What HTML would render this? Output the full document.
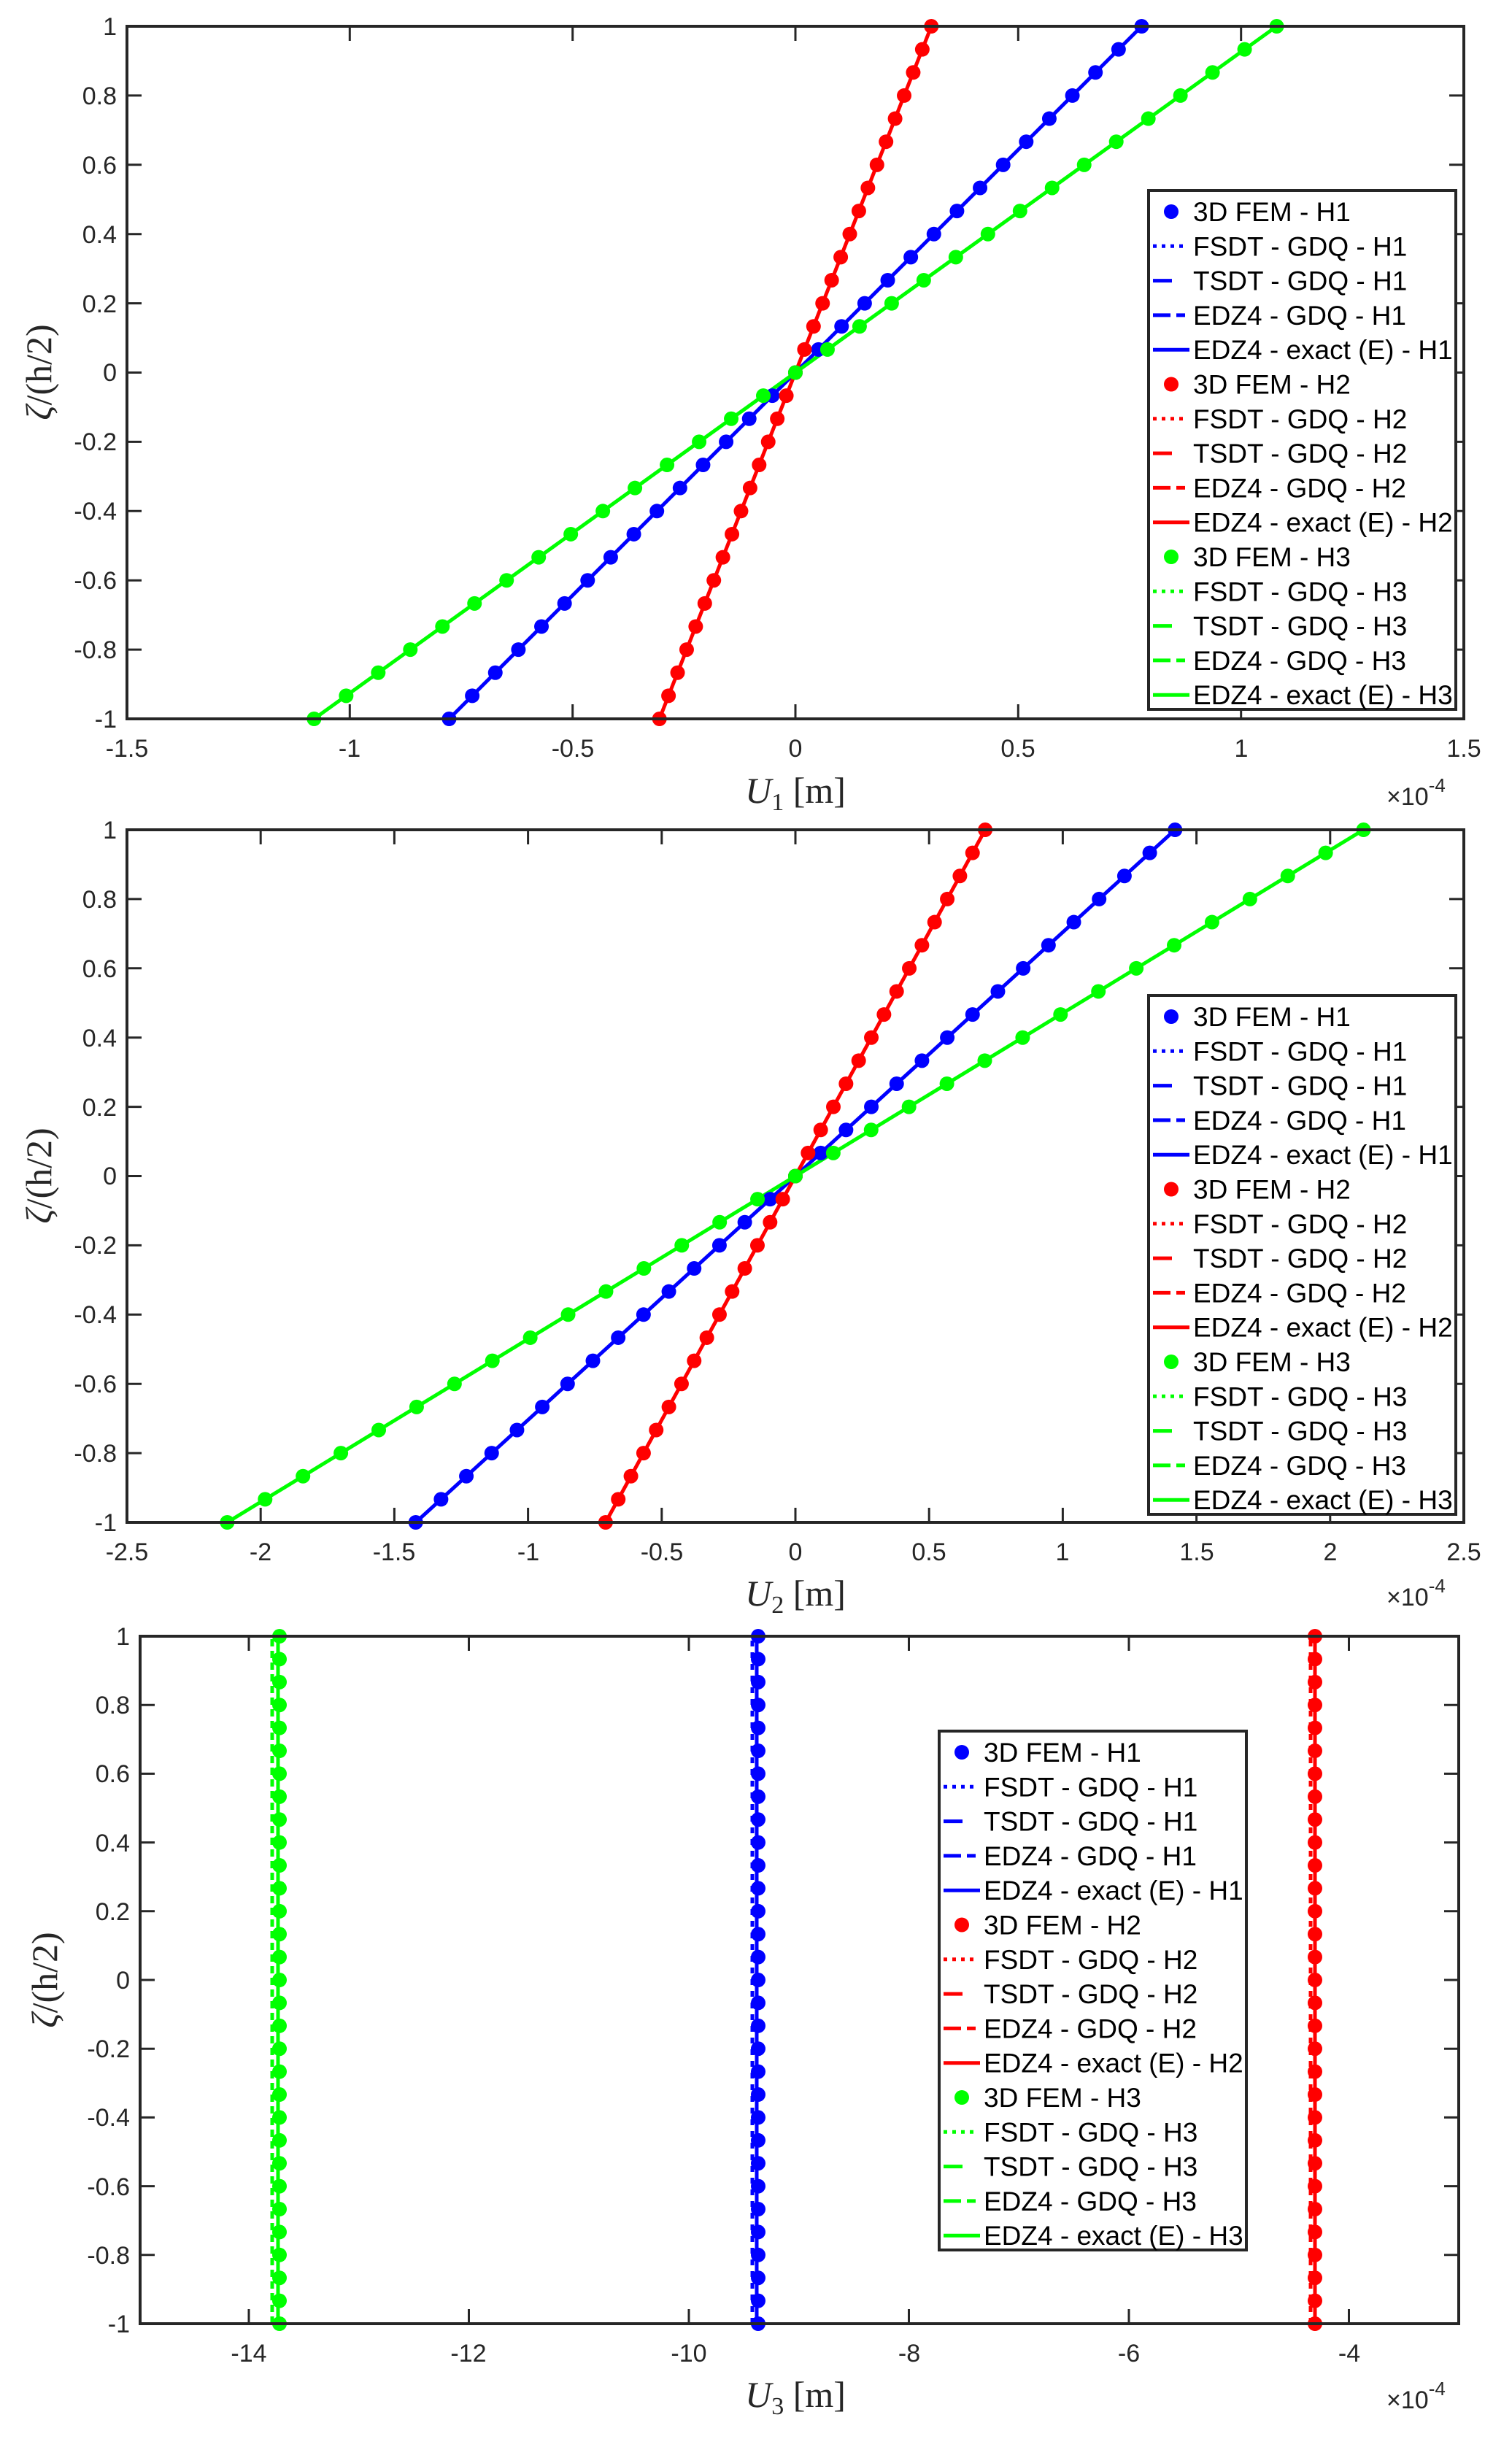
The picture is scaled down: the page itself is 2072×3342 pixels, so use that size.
<!DOCTYPE html>
<html><head><meta charset="utf-8"><style>
html,body{margin:0;padding:0;background:#fff;}
svg{display:block;}
.t{font-family:"Liberation Sans",sans-serif;font-size:34px;fill:#262626;}
.lg{font-family:"Liberation Sans",sans-serif;font-size:37px;fill:#000;}
.ax{font-family:"Liberation Serif",serif;font-size:50px;fill:#262626;}
</style></head><body>
<svg width="2072" height="3342" viewBox="0 0 2072 3342" xmlns="http://www.w3.org/2000/svg">

<!-- ========== PLOT 1 ========== -->
<g fill="none" stroke-width="5">
<line x1="615.5" y1="985" x2="1564.5" y2="36" stroke="#0000ff"/>
<line x1="903.7" y1="985" x2="1276.3" y2="36" stroke="#ff0000"/>
<line x1="430.4" y1="985" x2="1749.6" y2="36" stroke="#00ff00"/>
</g>
<g fill="none" stroke-width="20" stroke-linecap="round" stroke-dasharray="0 1">
<line x1="615.5" y1="985" x2="1564.5" y2="36" stroke="#0000ff" pathLength="30.001"/>
<line x1="903.7" y1="985" x2="1276.3" y2="36" stroke="#ff0000" pathLength="30.001"/>
<line x1="430.4" y1="985" x2="1749.6" y2="36" stroke="#00ff00" pathLength="30.001"/>
</g>
<g stroke="#262626" stroke-width="3">
<path d="M174,985V965M479.3,985V965M784.7,985V965M1090,985V965M1395.3,985V965M1700.7,985V965M2006,985V965
M174,36V56M479.3,36V56M784.7,36V56M1090,36V56M1395.3,36V56M1700.7,36V56M2006,36V56
M174,890.1H194M174,795.2H194M174,700.3H194M174,605.4H194M174,510.5H194M174,415.6H194M174,320.7H194M174,225.8H194M174,130.9H194
M2006,890.1H1986M2006,795.2H1986M2006,700.3H1986M2006,605.4H1986M2006,510.5H1986M2006,415.6H1986M2006,320.7H1986M2006,225.8H1986M2006,130.9H1986"/>
</g>
<rect x="174" y="36" width="1832" height="949" fill="none" stroke="#262626" stroke-width="4"/>
<g class="t" text-anchor="end">
<text x="160" y="997">-1</text><text x="160" y="902">-0.8</text><text x="160" y="807">-0.6</text><text x="160" y="712">-0.4</text><text x="160" y="617">-0.2</text><text x="160" y="522">0</text><text x="160" y="428">0.2</text><text x="160" y="333">0.4</text><text x="160" y="238">0.6</text><text x="160" y="143">0.8</text><text x="160" y="48">1</text>
</g>
<g class="t" text-anchor="middle">
<text x="174" y="1037">-1.5</text><text x="479" y="1037">-1</text><text x="785" y="1037">-0.5</text><text x="1090" y="1037">0</text><text x="1395" y="1037">0.5</text><text x="1701" y="1037">1</text><text x="2006" y="1037">1.5</text>
</g>
<text class="t" x="1900" y="1103">×10<tspan dy="-18" font-size="26">-4</tspan></text>
<text class="ax" x="1090" y="1100" text-anchor="middle"><tspan font-style="italic">U</tspan><tspan font-size="34" dy="10">1</tspan><tspan dy="-10">  [m]</tspan></text>
<text class="ax" transform="translate(70,510) rotate(-90)" text-anchor="middle"><tspan font-style="italic">ζ</tspan>/(h/2)</text>

<!-- legend 1 -->
<g transform="translate(1574,261)">
<rect x="0" y="0" width="421" height="711" fill="#fff" stroke="#262626" stroke-width="4"/>
<g stroke-width="5" fill="none">
<circle cx="31" cy="29" r="10" fill="#0000ff" stroke="none"/>
<line x1="6" y1="76.3" x2="50" y2="76.3" stroke="#0000ff" stroke-dasharray="5 7"/>
<line x1="6" y1="123.6" x2="32" y2="123.6" stroke="#0000ff"/>
<line x1="6" y1="170.9" x2="56" y2="170.9" stroke="#0000ff" stroke-dasharray="24 8 12 8"/>
<line x1="6" y1="218.2" x2="56" y2="218.2" stroke="#0000ff"/>
<circle cx="31" cy="265.5" r="10" fill="#ff0000" stroke="none"/>
<line x1="6" y1="312.8" x2="50" y2="312.8" stroke="#ff0000" stroke-dasharray="5 7"/>
<line x1="6" y1="360.1" x2="32" y2="360.1" stroke="#ff0000"/>
<line x1="6" y1="407.4" x2="56" y2="407.4" stroke="#ff0000" stroke-dasharray="24 8 12 8"/>
<line x1="6" y1="454.7" x2="56" y2="454.7" stroke="#ff0000"/>
<circle cx="31" cy="502" r="10" fill="#00ff00" stroke="none"/>
<line x1="6" y1="549.3" x2="50" y2="549.3" stroke="#00ff00" stroke-dasharray="5 7"/>
<line x1="6" y1="596.6" x2="32" y2="596.6" stroke="#00ff00"/>
<line x1="6" y1="643.9" x2="56" y2="643.9" stroke="#00ff00" stroke-dasharray="24 8 12 8"/>
<line x1="6" y1="691.2" x2="56" y2="691.2" stroke="#00ff00"/>
</g>
<g class="lg">
<text x="61" y="42">3D FEM - H1</text><text x="61" y="89.3">FSDT - GDQ - H1</text><text x="61" y="136.6">TSDT - GDQ - H1</text><text x="61" y="183.9">EDZ4 - GDQ - H1</text><text x="61" y="231.2">EDZ4 - exact (E) - H1</text>
<text x="61" y="278.5">3D FEM - H2</text><text x="61" y="325.8">FSDT - GDQ - H2</text><text x="61" y="373.1">TSDT - GDQ - H2</text><text x="61" y="420.4">EDZ4 - GDQ - H2</text><text x="61" y="467.7">EDZ4 - exact (E) - H2</text>
<text x="61" y="515">3D FEM - H3</text><text x="61" y="562.3">FSDT - GDQ - H3</text><text x="61" y="609.6">TSDT - GDQ - H3</text><text x="61" y="656.9">EDZ4 - GDQ - H3</text><text x="61" y="704.2">EDZ4 - exact (E) - H3</text>
</g>
</g>

<!-- ========== PLOT 2 ========== -->
<g fill="none" stroke-width="5">
<line x1="569.7" y1="2086" x2="1610.3" y2="1137" stroke="#0000ff"/>
<line x1="829.9" y1="2086" x2="1350.1" y2="1137" stroke="#ff0000"/>
<line x1="311.4" y1="2086" x2="1868.6" y2="1137" stroke="#00ff00"/>
</g>
<g fill="none" stroke-width="20" stroke-linecap="round" stroke-dasharray="0 1">
<line x1="569.7" y1="2086" x2="1610.3" y2="1137" stroke="#0000ff" pathLength="30.001"/>
<line x1="829.9" y1="2086" x2="1350.1" y2="1137" stroke="#ff0000" pathLength="30.001"/>
<line x1="311.4" y1="2086" x2="1868.6" y2="1137" stroke="#00ff00" pathLength="30.001"/>
</g>
<g stroke="#262626" stroke-width="3">
<path d="M174,2086v-20M357.2,2086v-20M540.4,2086v-20M723.6,2086v-20M906.8,2086v-20M1090,2086v-20M1273.2,2086v-20M1456.4,2086v-20M1639.6,2086v-20M1822.8,2086v-20M2006,2086v-20
M174,1137v20M357.2,1137v20M540.4,1137v20M723.6,1137v20M906.8,1137v20M1090,1137v20M1273.2,1137v20M1456.4,1137v20M1639.6,1137v20M1822.8,1137v20M2006,1137v20"/>
<path transform="translate(0,1101)" d="M174,890.1H194M174,795.2H194M174,700.3H194M174,605.4H194M174,510.5H194M174,415.6H194M174,320.7H194M174,225.8H194M174,130.9H194
M2006,890.1H1986M2006,795.2H1986M2006,700.3H1986M2006,605.4H1986M2006,510.5H1986M2006,415.6H1986M2006,320.7H1986M2006,225.8H1986M2006,130.9H1986"/>
</g>
<rect x="174" y="1137" width="1832" height="949" fill="none" stroke="#262626" stroke-width="4"/>
<g class="t" text-anchor="end" transform="translate(0,1101)">
<text x="160" y="997">-1</text><text x="160" y="902">-0.8</text><text x="160" y="807">-0.6</text><text x="160" y="712">-0.4</text><text x="160" y="617">-0.2</text><text x="160" y="522">0</text><text x="160" y="428">0.2</text><text x="160" y="333">0.4</text><text x="160" y="238">0.6</text><text x="160" y="143">0.8</text><text x="160" y="48">1</text>
</g>
<g class="t" text-anchor="middle">
<text x="174" y="2138">-2.5</text><text x="357" y="2138">-2</text><text x="540" y="2138">-1.5</text><text x="724" y="2138">-1</text><text x="907" y="2138">-0.5</text><text x="1090" y="2138">0</text><text x="1273" y="2138">0.5</text><text x="1456" y="2138">1</text><text x="1640" y="2138">1.5</text><text x="1823" y="2138">2</text><text x="2006" y="2138">2.5</text>
</g>
<text class="t" x="1900" y="2200">×10<tspan dy="-18" font-size="26">-4</tspan></text>
<text class="ax" x="1090" y="2200" text-anchor="middle"><tspan font-style="italic">U</tspan><tspan font-size="34" dy="10">2</tspan><tspan dy="-10">  [m]</tspan></text>
<text class="ax" transform="translate(70,1611) rotate(-90)" text-anchor="middle"><tspan font-style="italic">ζ</tspan>/(h/2)</text>

<g transform="translate(1574,1364)">
<rect x="0" y="0" width="421" height="711" fill="#fff" stroke="#262626" stroke-width="4"/>
<g stroke-width="5" fill="none">
<circle cx="31" cy="29" r="10" fill="#0000ff" stroke="none"/>
<line x1="6" y1="76.3" x2="50" y2="76.3" stroke="#0000ff" stroke-dasharray="5 7"/>
<line x1="6" y1="123.6" x2="32" y2="123.6" stroke="#0000ff"/>
<line x1="6" y1="170.9" x2="56" y2="170.9" stroke="#0000ff" stroke-dasharray="24 8 12 8"/>
<line x1="6" y1="218.2" x2="56" y2="218.2" stroke="#0000ff"/>
<circle cx="31" cy="265.5" r="10" fill="#ff0000" stroke="none"/>
<line x1="6" y1="312.8" x2="50" y2="312.8" stroke="#ff0000" stroke-dasharray="5 7"/>
<line x1="6" y1="360.1" x2="32" y2="360.1" stroke="#ff0000"/>
<line x1="6" y1="407.4" x2="56" y2="407.4" stroke="#ff0000" stroke-dasharray="24 8 12 8"/>
<line x1="6" y1="454.7" x2="56" y2="454.7" stroke="#ff0000"/>
<circle cx="31" cy="502" r="10" fill="#00ff00" stroke="none"/>
<line x1="6" y1="549.3" x2="50" y2="549.3" stroke="#00ff00" stroke-dasharray="5 7"/>
<line x1="6" y1="596.6" x2="32" y2="596.6" stroke="#00ff00"/>
<line x1="6" y1="643.9" x2="56" y2="643.9" stroke="#00ff00" stroke-dasharray="24 8 12 8"/>
<line x1="6" y1="691.2" x2="56" y2="691.2" stroke="#00ff00"/>
</g>
<g class="lg">
<text x="61" y="42">3D FEM - H1</text><text x="61" y="89.3">FSDT - GDQ - H1</text><text x="61" y="136.6">TSDT - GDQ - H1</text><text x="61" y="183.9">EDZ4 - GDQ - H1</text><text x="61" y="231.2">EDZ4 - exact (E) - H1</text>
<text x="61" y="278.5">3D FEM - H2</text><text x="61" y="325.8">FSDT - GDQ - H2</text><text x="61" y="373.1">TSDT - GDQ - H2</text><text x="61" y="420.4">EDZ4 - GDQ - H2</text><text x="61" y="467.7">EDZ4 - exact (E) - H2</text>
<text x="61" y="515">3D FEM - H3</text><text x="61" y="562.3">FSDT - GDQ - H3</text><text x="61" y="609.6">TSDT - GDQ - H3</text><text x="61" y="656.9">EDZ4 - GDQ - H3</text><text x="61" y="704.2">EDZ4 - exact (E) - H3</text>
</g>
</g>

<!-- ========== PLOT 3 ========== -->
<g fill="none" stroke-width="5">
<line x1="1031" y1="3184" x2="1031" y2="2242" stroke="#0000ff" stroke-dasharray="8 8"/>
<line x1="1796" y1="3184" x2="1796" y2="2242" stroke="#ff0000" stroke-dasharray="8 8"/>
<line x1="373" y1="3184" x2="373" y2="2242" stroke="#00ff00" stroke-dasharray="10 6"/>
<line x1="1037" y1="3184" x2="1037" y2="2242" stroke="#0000ff"/>
<line x1="1802" y1="3184" x2="1802" y2="2242" stroke="#ff0000"/>
<line x1="381" y1="3184" x2="381" y2="2242" stroke="#00ff00"/>
</g>
<g fill="none" stroke-width="20" stroke-linecap="round" stroke-dasharray="0 1">
<line x1="1039" y1="3184" x2="1039" y2="2242" stroke="#0000ff" pathLength="30.001"/>
<line x1="1802" y1="3184" x2="1802" y2="2242" stroke="#ff0000" pathLength="30.001"/>
<line x1="383" y1="3184" x2="383" y2="2242" stroke="#00ff00" pathLength="30.001"/>
</g>
<g stroke="#262626" stroke-width="3">
<path d="M341,3184v-20M642.5,3184v-20M944,3184v-20M1245.5,3184v-20M1547,3184v-20M1848.5,3184v-20
M341,2242v20M642.5,2242v20M944,2242v20M1245.5,2242v20M1547,2242v20M1848.5,2242v20
M192,3089.8h20M192,2995.6h20M192,2901.4h20M192,2807.2h20M192,2713h20M192,2618.8h20M192,2524.6h20M192,2430.4h20M192,2336.2h20
M1999,3089.8h-20M1999,2995.6h-20M1999,2901.4h-20M1999,2807.2h-20M1999,2713h-20M1999,2618.8h-20M1999,2524.6h-20M1999,2430.4h-20M1999,2336.2h-20"/>
</g>
<rect x="192" y="2242" width="1807" height="942" fill="none" stroke="#262626" stroke-width="4"/>
<g class="t" text-anchor="end">
<text x="178" y="3196">-1</text><text x="178" y="3102">-0.8</text><text x="178" y="3008">-0.6</text><text x="178" y="2913">-0.4</text><text x="178" y="2819">-0.2</text><text x="178" y="2725">0</text><text x="178" y="2631">0.2</text><text x="178" y="2537">0.4</text><text x="178" y="2442">0.6</text><text x="178" y="2348">0.8</text><text x="178" y="2254">1</text>
</g>
<g class="t" text-anchor="middle">
<text x="341" y="3236">-14</text><text x="642" y="3236">-12</text><text x="944" y="3236">-10</text><text x="1246" y="3236">-8</text><text x="1547" y="3236">-6</text><text x="1849" y="3236">-4</text>
</g>
<text class="t" x="1900" y="3300">×10<tspan dy="-18" font-size="26">-4</tspan></text>
<text class="ax" x="1090" y="3298" text-anchor="middle"><tspan font-style="italic">U</tspan><tspan font-size="34" dy="10">3</tspan><tspan dy="-10">  [m]</tspan></text>
<text class="ax" transform="translate(78,2713) rotate(-90)" text-anchor="middle"><tspan font-style="italic">ζ</tspan>/(h/2)</text>

<g transform="translate(1287,2372)">
<rect x="0" y="0" width="421" height="711" fill="#fff" stroke="#262626" stroke-width="4"/>
<g stroke-width="5" fill="none">
<circle cx="31" cy="29" r="10" fill="#0000ff" stroke="none"/>
<line x1="6" y1="76.3" x2="50" y2="76.3" stroke="#0000ff" stroke-dasharray="5 7"/>
<line x1="6" y1="123.6" x2="32" y2="123.6" stroke="#0000ff"/>
<line x1="6" y1="170.9" x2="56" y2="170.9" stroke="#0000ff" stroke-dasharray="24 8 12 8"/>
<line x1="6" y1="218.2" x2="56" y2="218.2" stroke="#0000ff"/>
<circle cx="31" cy="265.5" r="10" fill="#ff0000" stroke="none"/>
<line x1="6" y1="312.8" x2="50" y2="312.8" stroke="#ff0000" stroke-dasharray="5 7"/>
<line x1="6" y1="360.1" x2="32" y2="360.1" stroke="#ff0000"/>
<line x1="6" y1="407.4" x2="56" y2="407.4" stroke="#ff0000" stroke-dasharray="24 8 12 8"/>
<line x1="6" y1="454.7" x2="56" y2="454.7" stroke="#ff0000"/>
<circle cx="31" cy="502" r="10" fill="#00ff00" stroke="none"/>
<line x1="6" y1="549.3" x2="50" y2="549.3" stroke="#00ff00" stroke-dasharray="5 7"/>
<line x1="6" y1="596.6" x2="32" y2="596.6" stroke="#00ff00"/>
<line x1="6" y1="643.9" x2="56" y2="643.9" stroke="#00ff00" stroke-dasharray="24 8 12 8"/>
<line x1="6" y1="691.2" x2="56" y2="691.2" stroke="#00ff00"/>
</g>
<g class="lg">
<text x="61" y="42">3D FEM - H1</text><text x="61" y="89.3">FSDT - GDQ - H1</text><text x="61" y="136.6">TSDT - GDQ - H1</text><text x="61" y="183.9">EDZ4 - GDQ - H1</text><text x="61" y="231.2">EDZ4 - exact (E) - H1</text>
<text x="61" y="278.5">3D FEM - H2</text><text x="61" y="325.8">FSDT - GDQ - H2</text><text x="61" y="373.1">TSDT - GDQ - H2</text><text x="61" y="420.4">EDZ4 - GDQ - H2</text><text x="61" y="467.7">EDZ4 - exact (E) - H2</text>
<text x="61" y="515">3D FEM - H3</text><text x="61" y="562.3">FSDT - GDQ - H3</text><text x="61" y="609.6">TSDT - GDQ - H3</text><text x="61" y="656.9">EDZ4 - GDQ - H3</text><text x="61" y="704.2">EDZ4 - exact (E) - H3</text>
</g>
</g>
</svg>
</body></html>
